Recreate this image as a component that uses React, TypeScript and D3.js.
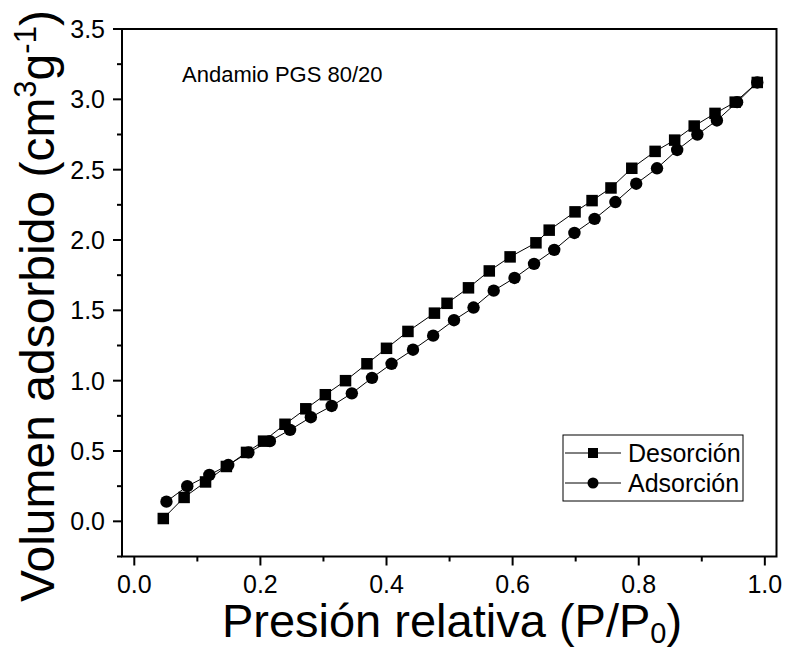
import React from "react";
import * as d3 from "d3";

const desX = [0.046,0.079,0.113,0.146,0.178,0.205,0.239,0.272,0.303,0.335,0.369,0.400,0.434,0.476,0.496,0.530,0.563,0.596,0.637,0.658,0.699,0.726,0.756,0.789,0.826,0.857,0.888,0.921,0.953,0.988];
const desY = [0.02,0.17,0.28,0.39,0.49,0.57,0.69,0.80,0.90,1.00,1.12,1.23,1.35,1.48,1.55,1.66,1.78,1.88,1.98,2.07,2.20,2.28,2.37,2.51,2.63,2.71,2.81,2.90,2.98,3.12];
const adsX = [0.051,0.084,0.119,0.149,0.181,0.215,0.247,0.280,0.313,0.345,0.377,0.408,0.442,0.474,0.507,0.538,0.570,0.603,0.634,0.666,0.698,0.730,0.763,0.796,0.829,0.861,0.893,0.924,0.956,0.988];
const adsY = [0.14,0.25,0.33,0.40,0.49,0.57,0.65,0.74,0.82,0.91,1.02,1.12,1.22,1.32,1.43,1.52,1.64,1.73,1.83,1.93,2.05,2.15,2.27,2.40,2.51,2.64,2.75,2.85,2.98,3.12];
const xTicks = [0.0, 0.2, 0.4, 0.6, 0.8, 1.0];
const xMinor = [0.1, 0.3, 0.5, 0.7, 0.9];
const yTicks = [0.0, 0.5, 1.0, 1.5, 2.0, 2.5, 3.0, 3.5];
const yMinor = [-0.25, 0.25, 0.75, 1.25, 1.75, 2.25, 2.75, 3.25];
const seriesNames = ["Desorción", "Adsorción"];

const W = 785, H = 648;
const L = 122, R = 776.5, T = 29, B = 556.5;
const FONT = "'Liberation Sans', Arial, sans-serif";

export default function App() {
  const x = d3.scaleLinear().domain([-0.0195, 1.0185]).range([L, R]);
  const y = d3.scaleLinear().domain([-0.25, 3.5]).range([B, T]);
  const line = d3.line<[number, number]>().x(d => x(d[0])).y(d => y(d[1]));
  const des: [number, number][] = desX.map((v, i) => [v, desY[i]]);
  const ads: [number, number][] = adsX.map((v, i) => [v, adsY[i]]);
  const sq = 11.5, cr = 6.2;

  return (
    <svg width={W} height={H} style={{ position: "absolute", left: 0, top: 0 }} fontFamily={FONT}>
      <rect x={0} y={0} width={W} height={H} fill="#fff" />
      <path d={line(des) || ""} fill="none" stroke="#000" strokeWidth={1} />
      <path d={line(ads) || ""} fill="none" stroke="#000" strokeWidth={1} />
      {des.map((d, i) => (
        <rect key={"s" + i} x={x(d[0]) - sq / 2} y={y(d[1]) - sq / 2} width={sq} height={sq} fill="#000" />
      ))}
      {ads.map((d, i) => (
        <circle key={"c" + i} cx={x(d[0])} cy={y(d[1])} r={cr} fill="#000" />
      ))}
      <rect x={L} y={T} width={R - L} height={B - T} fill="none" stroke="#000" strokeWidth={2} />
      {xTicks.map(t => (
        <g key={"xt" + t}>
          <line x1={x(t)} x2={x(t)} y1={B} y2={B + 9} stroke="#000" strokeWidth={2} />
          <text x={x(t)} y={B + 36} fontSize={25} textAnchor="middle" fill="#000">{t.toFixed(1)}</text>
        </g>
      ))}
      {xMinor.map(t => (
        <line key={"xm" + t} x1={x(t)} x2={x(t)} y1={B} y2={B + 5} stroke="#000" strokeWidth={2} />
      ))}
      {yTicks.map(t => (
        <g key={"yt" + t}>
          <line x1={L - 9} x2={L} y1={y(t)} y2={y(t)} stroke="#000" strokeWidth={2} />
          <text x={L - 17} y={y(t) + 9} fontSize={25} textAnchor="end" fill="#000">{t.toFixed(1)}</text>
        </g>
      ))}
      {yMinor.map(t => (
        <line key={"ym" + t} x1={L - 5} x2={L} y1={y(t)} y2={y(t)} stroke="#000" strokeWidth={2} />
      ))}
      <text x={452} y={637} fontSize={47} textAnchor="middle" fill="#000">
        Presión relativa (P/P<tspan fontSize={29} dy={6}>0</tspan><tspan dy={-6}>)</tspan>
      </text>
      <text transform={`translate(54,306) rotate(-90)`} fontSize={48} textAnchor="middle" fill="#000">
        Volumen adsorbido (cm<tspan fontSize={31} dy={-18}>3</tspan><tspan dy={18}>g</tspan><tspan fontSize={31} dy={-18}>-1</tspan><tspan dy={18}>)</tspan>
      </text>
      <text x={182} y={82} fontSize={22} fill="#000">Andamio PGS 80/20</text>
      <rect x={563} y={435} width={180} height={66} fill="#fff" stroke="#000" strokeWidth={1} />
      {seriesNames.map((n, i) => {
        const ly = 453 + i * 30;
        return (
          <g key={n}>
            <line x1={565} x2={621} y1={ly} y2={ly} stroke="#000" strokeWidth={1} />
            {i === 0 ? (
              <rect x={593 - 5} y={ly - 5} width={10} height={10} fill="#000" />
            ) : (
              <circle cx={593} cy={ly} r={5.5} fill="#000" />
            )}
            <text x={628} y={ly + 9} fontSize={25} fill="#000">{n}</text>
          </g>
        );
      })}
    </svg>
  );
}
